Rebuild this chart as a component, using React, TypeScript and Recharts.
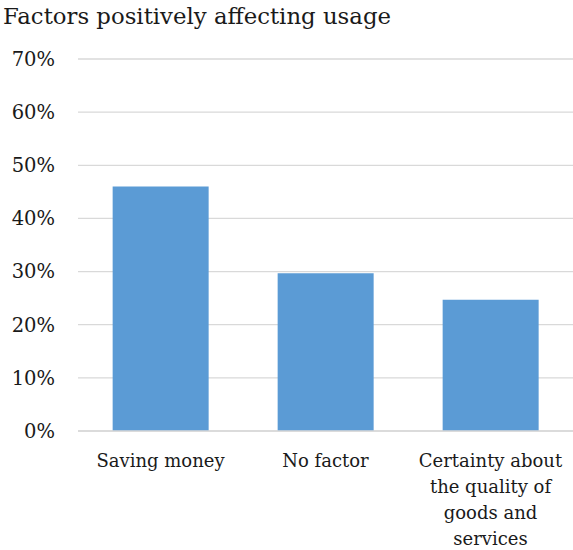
import React from "react";
import { BarChart, Bar, XAxis, YAxis, CartesianGrid, Text } from "recharts";

const factors = [
  "Saving money",
  "No factor",
  "Certainty about the quality of goods and services",
];
const shares = [46, 29.7, 24.7];
const yTicks = [0, 10, 20, 30, 40, 50, 60, 70];

const FONT = "'DejaVu Serif', serif";
const GRID = "#d9d9d9";
const INK = "#1a1a1a";

const data = factors.map((name, i) => ({ name, value: shares[i] }));

// category labels wrap inside a fixed width, centred under each bar
function FactorTick({ x, y, payload }: any) {
  const style = { fontFamily: FONT, fontSize: 18 };
  return (
    <Text
      x={x}
      y={y + 23}
      width={150}
      textAnchor="middle"
      verticalAnchor="start"
      lineHeight={26}
      style={style}
      fontFamily={FONT}
      fontSize={18}
      fill={INK}
    >
      {payload.value}
    </Text>
  );
}

export default function App() {
  return (
    <div
      style={{
        position: "absolute",
        left: 0,
        top: 0,
        width: 573,
        height: 550,
        background: "#fff",
      }}
    >
      <div
        style={{
          position: "absolute",
          left: 3,
          top: 0,
          fontFamily: FONT,
          fontSize: 22.8,
          lineHeight: "32px",
          color: INK,
          whiteSpace: "nowrap",
        }}
      >
        Factors positively affecting usage
      </div>
      <BarChart
        width={573}
        height={550}
        data={data}
        margin={{ top: 59, right: 0, bottom: 0, left: 0 }}
        barCategoryGap="21%"
      >
        <CartesianGrid vertical={false} stroke={GRID} strokeWidth={1.3} />
        <XAxis
          dataKey="name"
          height={119}
          interval={0}
          axisLine={{ stroke: GRID, strokeWidth: 1.3 }}
          tickLine={false}
          tickSize={0}
          tickMargin={0}
          tick={<FactorTick />}
        />
        <YAxis
          width={78}
          domain={[0, 70]}
          ticks={yTicks}
          interval={0}
          axisLine={false}
          tickLine={false}
          tickSize={0}
          tickMargin={23}
          tickFormatter={(v: number) => `${v}%`}
          tick={{ fontFamily: FONT, fontSize: 19.5, fill: INK }}
        />
        <Bar dataKey="value" fill="#5b9bd5" isAnimationActive={false} />
      </BarChart>
    </div>
  );
}
